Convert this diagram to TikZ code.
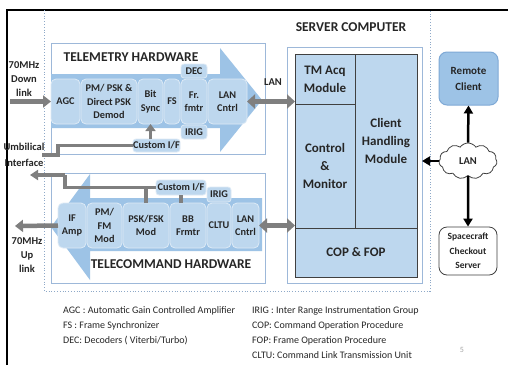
\documentclass[tikz,border=0pt]{standalone}
\usepackage{fontspec}
\setmainfont{Carlito}
\usetikzlibrary{arrows.meta,shapes.symbols}
\definecolor{arrowblue}{HTML}{9DC3E6}
\definecolor{blockblue}{HTML}{BDD7EE}
\definecolor{edgeblue}{HTML}{DDEAF6}
\definecolor{boxline}{HTML}{9DB8D9}
\definecolor{txt}{HTML}{262626}
\definecolor{garrow}{HTML}{7F7F7F}
\definecolor{panelline}{HTML}{404040}
\definecolor{remoteblue}{HTML}{9DC3E6}
\definecolor{remoteline}{HTML}{7FA9D6}
\definecolor{dotline}{HTML}{8EA9C8}
\begin{document}
\begin{tikzpicture}[x=1pt,y=-1pt,
  sz/.style 2 args={minimum width=#1pt, minimum height=#2pt},
  blk/.style={draw=edgeblue, line width=0.8pt, fill=blockblue, rounded corners=5pt,
    inner sep=0pt, outer sep=0pt, align=center, text=txt,
    font=\fontsize{10.3}{13.5}\selectfont\bfseries},
  outerbox/.style={draw=boxline, line width=0.8pt, fill=white, inner sep=0pt, outer sep=0pt},
  panel/.style={draw=panelline, line width=1pt, fill=blockblue, inner sep=0pt, outer sep=0pt,
    align=center, text=txt, font=\fontsize{13}{18}\selectfont\bfseries},
  title/.style={text=txt, inner sep=0pt, font=\fontsize{13.5}{15}\selectfont\bfseries},
  lbl/.style={text=txt, inner sep=0pt, align=center, font=\fontsize{10.5}{14}\selectfont\bfseries},
  legend/.style={text=txt, inner sep=0pt, anchor=base west, font=\fontsize{10}{12}\selectfont},
  bigarrow/.style={fill=arrowblue, draw=none},
  garr/.style={draw=garrow, line width=4.5pt, -{Triangle[width=12pt,length=8pt]}},
  gdarr/.style={draw=garrow, line width=5pt, {Triangle[width=14pt,length=8pt]}-{Triangle[width=14pt,length=8pt]}},
  gline/.style={draw=garrow, line width=3.5pt},
  barr/.style={draw=black, line width=2.5pt, -{Triangle[width=9pt,length=8pt]}}
]
\useasboundingbox (0,0) rectangle (508,365);
\fill[white] (0,0) rectangle (508,365);
% frame
\draw[black, line width=1.5pt] (7,365) -- (7,10) -- (508,10);
% dotted enclosure
\draw[dotline, dotted, line width=0.8pt] (44,10) -- (44,291) -- (430,291) -- (430,10);

% outer boxes
\node[outerbox, sz={214}{111}] (tmbox) at (158,98.5) {};
\node[outerbox, sz={214}{110}] (tcbox) at (158,228) {};
\node[outerbox, sz={135}{236}] (srv) at (354.5,165) {};

% big arrows
\fill[bigarrow] (51,74) -- (220,74) -- (220,48) -- (262,100) -- (220,152) -- (220,128) -- (51,128) -- cycle;
\fill[bigarrow] (262,198) -- (90,198) -- (90,174) -- (51,227) -- (90,280) -- (90,251) -- (262,251) -- cycle;

% titles
\node[title, anchor=base] (tmtitle) at (131,61.5) {TELEMETRY HARDWARE};
\node[title, anchor=base] (tctitle) at (171,268.5) {TELECOMMAND HARDWARE};
\node[title, anchor=base] (srvtitle) at (351,31.5) {SERVER COMPUTER};

% telemetry blocks
\node[blk, sz={29}{45}] (agc) at (65.5,101.5) {AGC};
\node[blk, sz={56}{45}] (pm) at (109,101.5) {PM/ PSK \&\\Direct PSK\\Demod};
\node[blk, sz={25}{45}] (bs) at (150.5,101.5) {Bit\\Sync};
\node[blk, sz={16}{45}] (fs) at (172,101.5) {FS};
\node[blk, sz={26}{45}] (fr) at (194,101.5) {Fr.\\fmtr};
\node[blk, sz={39}{45}] (lan1) at (227.5,101.5) {LAN\\Cntrl};
\node[blk, sz={26}{14}, rounded corners=3pt] (dec) at (194,71) {DEC};
\node[blk, sz={26}{14}, rounded corners=3pt] (irig1) at (194,132) {IRIG};
\node[blk, sz={47}{13}, rounded corners=3pt] (cif1) at (156.5,145.5) {Custom I/F};

% telecommand blocks
\node[blk, sz={28}{45}] (ifamp) at (72,225.5) {IF\\Amp};
\node[blk, sz={35}{45}] (pmfm) at (104.5,225.5) {PM/\\FM\\Mod};
\node[blk, sz={46}{45}] (psk) at (146,225.5) {PSK/FSK\\Mod};
\node[blk, sz={36}{45}] (bbf) at (188,225.5) {BB\\Frmtr};
\node[blk, sz={24}{45}] (cltu) at (219,225.5) {CLTU};
\node[blk, sz={27}{45}] (lan2) at (245.5,225.5) {LAN\\Cntrl};
\node[blk, sz={24}{15}, rounded corners=3pt] (irig2) at (219,194.5) {IRIG};
\node[blk, sz={50}{15}, rounded corners=3pt] (cif2) at (181,187.5) {Custom I/F};

% server panels
\node[panel, sz={60}{50}] (tmacq) at (325,79) {TM Acq\\Module};
\node[panel, sz={60}{124}] (ctrl) at (325,166) {Control\\\&\\Monitor};
\node[panel, sz={62}{174}] (chm) at (386,141) {Client\\Handling\\Module};
\node[panel, sz={122}{49}] (cop) at (356,252.5) {COP \& FOP};

% right side
\node[draw=remoteline, line width=1pt, fill=remoteblue, rounded corners=8pt, sz={59}{53},
  inner sep=0pt, align=center, text=txt, font=\fontsize{11}{16}\selectfont\bfseries]
  (remote) at (468.5,78.5) {Remote\\Client};
\node[cloud, cloud puffs=11, cloud puff arc=110, aspect=1.7, draw=panelline, line width=0.8pt,
  fill=white, minimum width=58pt, minimum height=36pt, inner sep=0pt, text=txt,
  font=\fontsize{10.5}{12}\selectfont\bfseries] (cloud) at (468,161) {LAN};
\node[draw=panelline, line width=0.8pt, fill=white, rounded corners=8pt, sz={58}{48},
  inner sep=0pt, align=center, text=txt, font=\fontsize{9.5}{14.5}\selectfont\bfseries]
  (sc) at (468,251) {Spacecraft\\Checkout\\Server};

% left labels
\node[lbl] (dl) at (24,79) {70MHz\\Down\\link};
\node[lbl] (ul) at (27,255) {70MHz\\Up\\link};
\node[lbl, font=\fontsize{10.5}{15.5}\selectfont\bfseries] (umb) at (24,155) {Umbilical\\Interface};
\node[lbl] (lanlbl) at (273,82) {LAN};

% connectors
\coordinate (dlS) at (10,101.5);
\draw[garr] (dlS) -- (agc.west);
\coordinate (ulE) at (15,226);
\draw[garr] (ifamp.west) -- (ulE);
\coordinate (u1) at (58,155);
\coordinate (u2) at (42,155);
\draw[gline] (cif1.west) -| (u1) -- (u2);
\draw[garr, line width=3.5pt, -{Triangle[width=10pt,length=7pt]}] (bs.south |- cif1.north) -- (bs.south);
\coordinate (t1) at (65,175);
\coordinate (t2) at (30,175);
\draw[gline] (cif2.west) -| (t1);
\draw[garr, line width=3.5pt, -{Triangle[width=10pt,length=8pt]}] (t1) -- (t2);
\draw[gline] (psk.north) -- (psk.north |- cif2.west);
\draw[gline] (cif2.south) -- (cif2.south |- bbf.north);
\draw[gdarr] (lan1.east) -- (lan1.east -| tmacq.west);
\draw[gdarr] (lan2.east) -- (lan2.east -| cop.west);
\draw[barr] (cloud.north) -- (remote.south);
\draw[barr] (cloud.south) -- (sc.north);
\draw[barr] (cloud.west) -- (cloud.west -| srv.east);

% legend
\node[legend] (lg1) at (63,313) {AGC : Automatic Gain Controlled Amplifier};
\node[legend] (lg2) at (63,328) {FS : Frame Synchronizer};
\node[legend] (lg3) at (63,343) {DEC: Decoders ( Viterbi/Turbo)};
\node[legend] (lg4) at (252,313) {IRIG : Inter Range Instrumentation Group};
\node[legend] (lg5) at (252,328) {COP: Command Operation Procedure};
\node[legend] (lg6) at (252,343) {FOP: Frame Operation Procedure};
\node[legend] (lg7) at (252,358) {CLTU: Command Link Transmission Unit};
\node[text=gray!70, inner sep=0pt, font=\fontsize{8}{10}\selectfont] (pg) at (462,350) {5};
\end{tikzpicture}
\end{document}
